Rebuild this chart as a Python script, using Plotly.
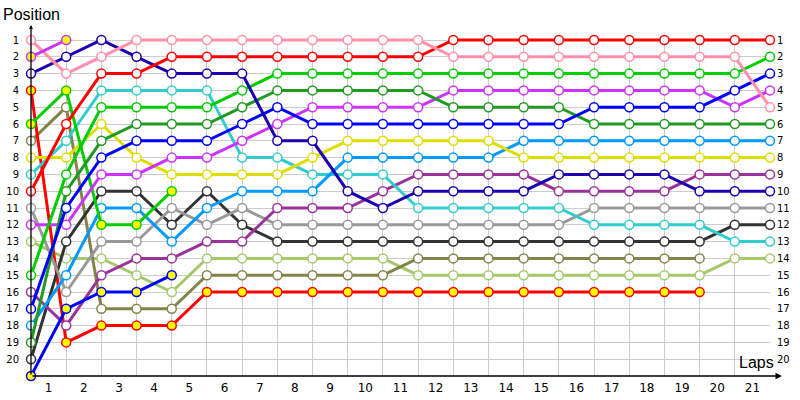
import plotly.graph_objects as go

laps = list(range(0, 22))
N = None

pink       = [1, 3, 2, 1, 1, 1, 1, 1, 1, 1, 1, 1, 2, 2, 2, 2, 2, 2, 2, 2, 2, 5]
red        = [10, 6, 3, 3, 2, 2, 2, 2, 2, 2, 2, 2, 1, 1, 1, 1, 1, 1, 1, 1, 1, 1]
darkblue   = [3, 2, 1, 2, 3, 3, 3, 7, 7, 10, 11, 10, 10, 10, 10, 9, 9, 9, 9, 10, 10, 10]
blue       = [17, 11, 8, 7, 7, 7, 6, 5, 6, 6, 6, 6, 6, 6, 6, 6, 5, 5, 5, 5, 4, 3]
green      = [15, 9, 5, 5, 5, 5, 4, 3, 3, 3, 3, 3, 3, 3, 3, 3, 3, 3, 3, 3, 3, 2]
darkgreen  = [19, 10, 7, 6, 6, 6, 5, 4, 4, 4, 4, 4, 5, 5, 5, 5, 6, 6, 6, 6, 6, 6]
magenta    = [12, 12, 9, 9, 8, 8, 7, 6, 5, 5, 5, 5, 4, 4, 4, 4, 4, 4, 4, 4, 5, 4]
purple     = [16, 18, 15, 14, 14, 13, 13, 11, 11, 11, 10, 9, 9, 9, 9, 10, 10, 10, 10, 9, 9, 9]
cyan       = [9, 7, 4, 4, 4, 4, 8, 8, 9, 9, 9, 11, 11, 11, 11, 11, 12, 12, 12, 12, 13, 13]
lightblue  = [18, 15, 11, 11, 13, 11, 10, 10, 10, 8, 8, 8, 8, 8, 7, 7, 7, 7, 7, 7, 7, 7]
yellow     = [8, 8, 6, 8, 9, 9, 9, 9, 8, 7, 7, 7, 7, 7, 8, 8, 8, 8, 8, 8, 8, 8]
gray       = [11, 16, 13, 13, 11, 12, 11, 12, 12, 12, 12, 12, 12, 12, 12, 12, 11, 11, 11, 11, 11, 11]
black      = [20, 13, 10, 10, 12, 10, 12, 13, 13, 13, 13, 13, 13, 13, 13, 13, 13, 13, 13, 13, 12, 12]
olive      = [7, 5, 17, 17, 17, 15, 15, 15, 15, 15, 15, 14, 14, 14, 14, 14, 14, 14, 14, 14, N, N]
lightgreen = [13, 14, 14, 15, 16, 14, 14, 14, 14, 14, 14, 15, 15, 15, 15, 15, 15, 15, 15, 15, 14, 14]
red_y      = [4, 19, 18, 18, 18, 16, 16, 16, 16, 16, 16, 16, 16, 16, 16, 16, 16, 16, 16, 16, N, N]
blue_y     = [21, 17, 16, 16, 15] + [N] * 17
green_y    = [6, 4, 12, 12, 10] + [N] * 17
magenta_y  = [2, 1] + [N] * 20

positions = list(range(1, 21))
lap_labels = [str(i) for i in range(1, 22)]

series = [
    (lightgreen, "#a6c86a", "white"),
    (olive, "#84844a", "white"),
    (red_y, "#ff0000", "#ffff00"),
    (black, "#333333", "white"),
    (gray, "#999999", "white"),
    (purple, "#993399", "white"),
    (cyan, "#33cccc", "white"),
    (lightblue, "#0099ff", "white"),
    (yellow, "#dddd00", "white"),
    (blue_y, "#0000ff", "#ffff00"),
    (green_y, "#00cc00", "#ffff00"),
    (magenta, "#cc33ff", "white"),
    (darkgreen, "#229922", "white"),
    (blue, "#0000ff", "white"),
    (green, "#00cc00", "white"),
    (darkblue, "#1c00b0", "white"),
    (red, "#ff0000", "white"),
    (pink, "#ff8fab", "white"),
    (magenta_y, "#cc33ff", "#ffff00"),
]

fig = go.Figure()
for vals, col, fill in series:
    fig.add_trace(go.Scatter(
        x=laps, y=vals, mode="lines+markers",
        line=dict(color=col, width=3),
        marker=dict(size=9, color=fill, line=dict(color=col, width=1.5)),
        cliponaxis=False, showlegend=False, hoverinfo="skip",
        connectgaps=False,
    ))

fig.add_trace(go.Scatter(x=[0], y=[1], xaxis="x2", yaxis="y2", mode="markers",
                         marker=dict(opacity=0), showlegend=False, hoverinfo="skip"))

yr = [21, 0.702]
font_main = "Liberation Sans, Arial, sans-serif"
tick_font = "DejaVu Sans, sans-serif"
fig.update_layout(
    width=800, height=400,
    margin=dict(l=31, r=30, t=35, b=24, autoexpand=False),
    paper_bgcolor="white", plot_bgcolor="white",
    font=dict(family=font_main, color="black"),
    xaxis=dict(range=[0, 21], tickvals=list(range(1, 22)), showticklabels=False,
               showgrid=True, gridcolor="#cccccc", gridwidth=1, zeroline=False,
               showline=False, automargin=False),
    xaxis2=dict(range=[0, 21], overlaying="x", anchor="y", side="bottom",
                tickvals=[i + 0.5 for i in range(21)], ticktext=lap_labels,
                showgrid=False, zeroline=False, showline=False, automargin=False,
                tickfont=dict(size=12, family=tick_font), ticklabelstandoff=3),
    yaxis=dict(range=yr, tickvals=positions, ticktext=[str(p) for p in positions],
               showgrid=True, gridcolor="#cccccc", gridwidth=1, zeroline=False,
               showline=False, automargin=False, tickfont=dict(size=10, family=tick_font),
               ticklabelstandoff=11),
    yaxis2=dict(range=yr, overlaying="y", anchor="x", side="right",
                tickvals=positions, ticktext=[str(p) for p in positions],
                showgrid=False, zeroline=False, showline=False, automargin=False,
                tickfont=dict(size=10, family=tick_font), ticklabelstandoff=6),
    annotations=[
        dict(xref="paper", yref="paper", x=1.0162, y=0, ax=-751, ay=0, text="",
             showarrow=True, arrowhead=2, arrowsize=1, arrowwidth=1.3, arrowcolor="black"),
        dict(xref="paper", yref="paper", x=0, y=1.029, ax=0, ay=351, text="",
             showarrow=True, arrowhead=2, arrowsize=0.6, arrowwidth=1.3, arrowcolor="black"),
        dict(xref="paper", yref="paper", x=-0.040, y=1.06, xanchor="left", yanchor="middle",
             text="Position", showarrow=False, font=dict(size=16, family=font_main)),
        dict(xref="paper", yref="paper", x=0.982, y=0.04, xanchor="center", yanchor="middle",
             text="Laps", showarrow=False, font=dict(size=16, family=font_main)),
    ],
)

fig.write_html("out.html", config={"displayModeBar": False},
               post_script="document.body.style.margin='0';document.body.style.overflow='hidden';")
